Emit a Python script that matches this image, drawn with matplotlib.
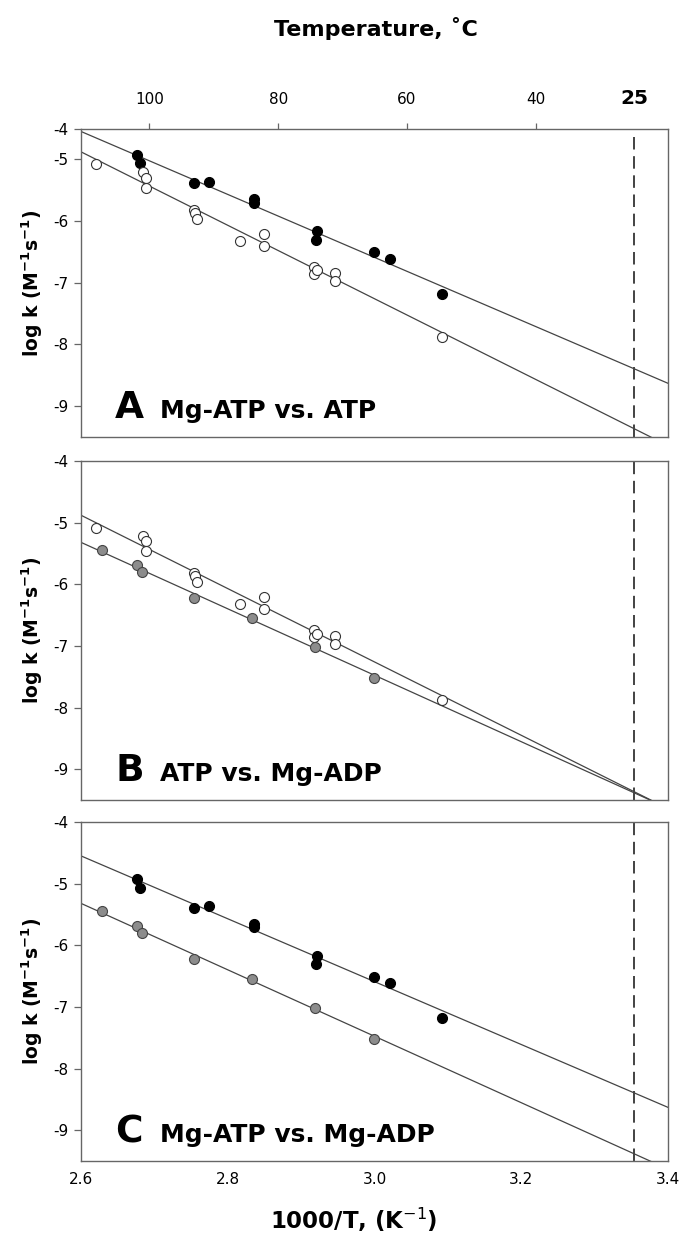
import numpy as np
import matplotlib
matplotlib.use('Agg')
import matplotlib.pyplot as plt

# Data (1000/T in K^-1, log k)
mgatp_x = [2.676, 2.680, 2.754, 2.774, 2.836, 2.836, 2.921, 2.920, 2.999, 3.021, 3.092]
mgatp_y = [-4.93, -5.065, -5.39, -5.37, -5.65, -5.71, -6.17, -6.31, -6.51, -6.61, -7.18]

atp_x = [2.620, 2.684, 2.689, 2.689, 2.754, 2.755, 2.758, 2.817, 2.849, 2.849,
         2.917, 2.917, 2.922, 2.946, 2.946, 3.092]
atp_y = [-5.08, -5.21, -5.30, -5.46, -5.82, -5.865, -5.97, -6.32, -6.21, -6.405,
         -6.74, -6.86, -6.80, -6.84, -6.97, -7.875]

mgadp_x = [2.628, 2.676, 2.683, 2.754, 2.833, 2.919, 2.999]
mgadp_y = [-5.44, -5.69, -5.80, -6.23, -6.55, -7.02, -7.52]

# fitted lines: (log k at 1000/T = 2.6, slope)
fit_mgatp = (-4.55, -5.10)
fit_atp = (-4.88, -5.95)
fit_mgadp = (-5.32, -5.39)

temp_ticks = [100, 80, 60, 40]
t25 = 1000 / 298.15

styles = {
    'mgatp': dict(marker='o', ms=7.2, mfc='black', mec='black', mew=0.8),
    'atp': dict(marker='o', ms=7.2, mfc='white', mec='#333333', mew=0.8),
    'mgadp': dict(marker='o', ms=7.2, mfc='#8c8c8c', mec='#444444', mew=0.8),
}
series = {
    'mgatp': (mgatp_x, mgatp_y, fit_mgatp),
    'atp': (atp_x, atp_y, fit_atp),
    'mgadp': (mgadp_x, mgadp_y, fit_mgadp),
}

# panel A is cut off at about -4.5 in the original, but its top tick still reads "-4"
panels = [
    ('A', 'Mg-ATP vs. ATP', ['mgatp', 'atp'], -4.51),
    ('B', 'ATP vs. Mg-ADP', ['atp', 'mgadp'], -4.0),
    ('C', 'Mg-ATP vs. Mg-ADP', ['mgatp', 'mgadp'], -4.0),
]

W, H = 681, 1233
fig = plt.figure(figsize=(W / 100, H / 100), dpi=100)

left = 81 / W
width = 587 / W
boxes = [(129, 437), (461, 800), (822, 1161)]

spine_col = '#666666'
axes = []
for (letter, name, keys, ytop), (top, bot) in zip(panels, boxes):
    ax = fig.add_axes([left, 1 - bot / H, width, (bot - top) / H])
    axes.append(ax)
    ax.set_xlim(2.6, 3.4)
    ax.set_ylim(-9.5, ytop)
    xx = np.array([2.6, 3.4])
    for k in keys:
        x, y, (b, m) = series[k]
        ax.plot(xx, b + m * (xx - 2.6), color='#444444', lw=0.9, zorder=2)
    for k in keys:
        x, y, _ = series[k]
        ax.plot(x, y, ls='none', zorder=3, **styles[k])
    if letter == 'A':
        ax.plot([t25, t25], [-9.5, ytop - 0.12], color='#222222', lw=1.2,
                ls=(0, (7.5, 4)), zorder=1)
    else:
        ax.axvline(t25, color='#222222', lw=1.2, ls=(0, (7.5, 4)), zorder=1)

    ax.set_yticks([ytop, -5, -6, -7, -8, -9])
    ax.set_yticklabels(['-4', '-5', '-6', '-7', '-8', '-9'])
    ax.tick_params(axis='y', direction='out', length=5, width=0.9, color=spine_col,
                   labelsize=11, pad=4)
    ax.set_xticks([2.6, 2.8, 3.0, 3.2, 3.4])
    ax.tick_params(axis='x', length=0, labelsize=11, pad=8)
    if letter != 'C':
        ax.tick_params(axis='x', labelbottom=False)
    else:
        ax.set_xticklabels(['2.6', '2.8', '3.0', '3.2', '3.4'])
    for s in ax.spines.values():
        s.set_color(spine_col)
        s.set_linewidth(1.0)
    ax.set_ylabel('log k (M$^{\\mathbf{-1}}$s$^{\\mathbf{-1}}$)', fontsize=13.5,
                  fontweight='bold', labelpad=6)

    ax.text(0.058, 0.056 * 339 / (bot - top), letter, transform=ax.transAxes,
            fontsize=27, fontweight='bold', ha='left', va='baseline')
    ax.text(0.135, 0.056 * 339 / (bot - top), name, transform=ax.transAxes,
            fontsize=18, fontweight='bold', ha='left', va='baseline')

# top temperature axis (linear in degrees C as drawn)
axt = axes[0].twiny()
axt.set_xlim(110.6, 19.5)
axt.set_xticks(temp_ticks)
axt.set_xticklabels([str(t) for t in temp_ticks])
axt.tick_params(axis='x', direction='out', length=4, width=0.9, color=spine_col,
                labelsize=11, pad=12)
for s in axt.spines.values():
    s.set_visible(False)
axes[0].annotate('25', xy=(t25, 1), xycoords=('data', 'axes fraction'),
                 xytext=(0, 15), textcoords='offset points', fontsize=14.5,
                 fontweight='bold', ha='center', va='bottom')
fig.text(376 / W, 1 - 28 / H, 'Temperature, ˚C', fontsize=16, fontweight='bold',
         ha='center', va='center')

fig.text(354 / W, 1 - 1220 / H, '1000/T, (K$^{-1}$)', fontsize=16.5,
         fontweight='bold', ha='center', va='center')

fig.savefig('out.png', dpi=100)
